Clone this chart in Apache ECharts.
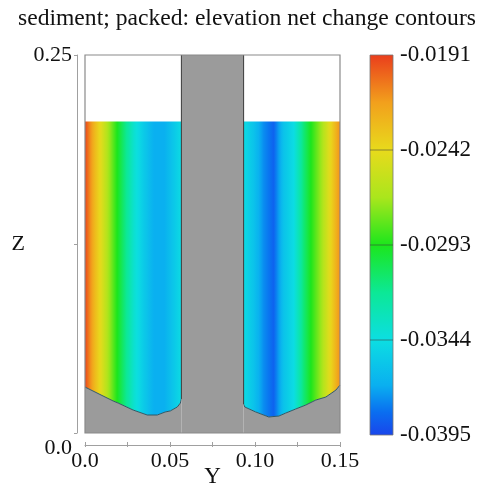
<!DOCTYPE html>
<html><head><meta charset="utf-8">
<script src="https://cdn.jsdelivr.net/npm/echarts@6/dist/echarts.min.js"></script>
<style>html,body{margin:0;padding:0;background:#fff}#c{width:483px;height:486px}</style>
</head><body><div id="c"></div>
<script>
// ---- data ----
const titleText = 'sediment; packed: elevation net change contours';
const xTickLabels = ['0.0', '', '0.05', '', '0.10', '', '0.15'];
const zTickLabels = ['0.0', '', '0.25'];
const colorTickLabels = ['-0.0395', '-0.0344', '-0.0293', '-0.0242', '-0.0191'];
const colorTickValues = [-0.0395, -0.0344, -0.0293, -0.0242, -0.0191];

const waterLevel = 0.206;
const pillarY = [0.0567, 0.0933];

const bedLeftY = [0, 0.0165, 0.0195, 0.0283, 0.0366, 0.0425, 0.0472, 0.0502, 0.0543, 0.0561, 0.0567];
const bedLeftZ = [0.0304, 0.0212, 0.0198, 0.0152, 0.0119, 0.0119, 0.0139, 0.0146, 0.0172, 0.0198, 0.0225];
const bedRightY = [0.0933, 0.0940, 0.1004, 0.1081, 0.1140, 0.1181, 0.1240, 0.1299, 0.1358, 0.1417, 0.1476, 0.15];
const bedRightZ = [0.0190, 0.0172, 0.0139, 0.0106, 0.0112, 0.0132, 0.0159, 0.0185, 0.0218, 0.0238, 0.0284, 0.0317];

const leftSampleY = [0, 0.0012, 0.0053, 0.0094, 0.0142, 0.0189, 0.0230, 0.0289, 0.0348, 0.0407, 0.0466, 0.0526, 0.0567];
const leftSampleV = [-0.0193, -0.0200, -0.0225, -0.0245, -0.0270, -0.0293, -0.0312, -0.0338, -0.0355, -0.0368, -0.0368, -0.0355, -0.0345];
const rightSampleY = [0.0933, 0.0992, 0.1051, 0.1110, 0.1169, 0.1228, 0.1287, 0.1329, 0.1388, 0.1447, 0.1494, 0.15];
const rightSampleV = [-0.0345, -0.0358, -0.0376, -0.0386, -0.0358, -0.0345, -0.0312, -0.0293, -0.0270, -0.0240, -0.0215, -0.0210];

// ---- colour map ----
const cmapStops = [
  [0.000, [25, 70, 235]],
  [0.060, [10, 110, 240]],
  [0.130, [10, 175, 240]],
  [0.250, [12, 222, 226]],
  [0.375, [12, 232, 150]],
  [0.500, [28, 230, 28]],
  [0.625, [170, 230, 28]],
  [0.750, [232, 218, 28]],
  [0.875, [242, 160, 28]],
  [1.000, [234, 62, 28]]
];
const vMin = colorTickValues[0], vMax = colorTickValues[colorTickValues.length - 1];
function cmapT(t) {
  t = Math.max(0, Math.min(1, t));
  for (let i = 1; i < cmapStops.length; i++) {
    if (t <= cmapStops[i][0]) {
      const a = cmapStops[i - 1], b = cmapStops[i];
      const f = (t - a[0]) / (b[0] - a[0]);
      const c = a[1].map((x, k) => Math.round(x + (b[1][k] - x) * f));
      return 'rgb(' + c.join(',') + ')';
    }
  }
  return 'rgb(' + cmapStops[cmapStops.length - 1][1].join(',') + ')';
}
function cmap(v) { return cmapT((v - vMin) / (vMax - vMin)); }

function regionStops(ys, vs) {
  const y0 = ys[0], y1 = ys[ys.length - 1];
  const stops = [];
  for (let i = 0; i < ys.length - 1; i++) {
    const n = 4;
    for (let k = 0; k < n; k++) {
      const f = k / n;
      const y = ys[i] + (ys[i + 1] - ys[i]) * f;
      const v = vs[i] + (vs[i + 1] - vs[i]) * f;
      stops.push({ offset: (y - y0) / (y1 - y0), color: cmap(v) });
    }
  }
  stops.push({ offset: 1, color: cmap(vs[vs.length - 1]) });
  return stops;
}

const FONT = 'Liberation Serif';
const GRAY = '#9b9b9b';
const chart = echarts.init(document.getElementById('c'), null, { renderer: 'canvas' });

function renderMain(params, api) {
  const P = (y, z) => api.coord([y, z]);
  const children = [];
  function waterPoly(y0, y1, bedY, bedZ, sy, sv) {
    const pts = [P(y0, waterLevel), P(y1, waterLevel)];
    for (let i = bedY.length - 1; i >= 0; i--) pts.push(P(bedY[i], bedZ[i]));
    return {
      type: 'polygon', shape: { points: pts },
      style: { fill: { type: 'linear', x: P(y0, 0)[0], y: 0, x2: P(y1, 0)[0], y2: 0, global: true, colorStops: regionStops(sy, sv) }, stroke: null }
    };
  }
  function bedPoly(bedY, bedZ) {
    const pts = bedY.map((y, i) => P(y, bedZ[i]));
    pts.push(P(bedY[bedY.length - 1], 0));
    pts.push(P(bedY[0], 0));
    return { type: 'polygon', shape: { points: pts }, style: { fill: GRAY, stroke: null } };
  }
  function bedLine(bedY, bedZ) {
    return { type: 'polyline', shape: { points: bedY.map((y, i) => P(y, bedZ[i])) }, style: { stroke: '#2f5866', lineWidth: 1, fill: null } };
  }
  children.push(waterPoly(0, pillarY[0], bedLeftY, bedLeftZ, leftSampleY, leftSampleV));
  children.push(waterPoly(pillarY[1], 0.15, bedRightY, bedRightZ, rightSampleY, rightSampleV));
  children.push(bedPoly(bedLeftY, bedLeftZ));
  children.push(bedPoly(bedRightY, bedRightZ));
  children.push(bedLine(bedLeftY, bedLeftZ));
  children.push(bedLine(bedRightY, bedRightZ));
  const a = P(pillarY[0], 0.25), b = P(pillarY[1], 0);
  children.push({ type: 'rect', shape: { x: a[0], y: a[1], width: b[0] - a[0], height: b[1] - a[1] }, style: { fill: GRAY, stroke: null } });
  children.push({ type: 'line', shape: { x1: a[0], y1: a[1], x2: a[0], y2: P(0, bedLeftZ[bedLeftZ.length - 1])[1] }, style: { stroke: '#3a3a3a', lineWidth: 1 } });
  children.push({ type: 'line', shape: { x1: b[0], y1: a[1], x2: b[0], y2: P(0, bedRightZ[0])[1] }, style: { stroke: '#3a3a3a', lineWidth: 1 } });
  const tl = P(0, 0.25), br = P(0.15, 0);
  children.push({ type: 'rect', shape: { x: tl[0], y: tl[1], width: br[0] - tl[0], height: br[1] - tl[1] }, style: { fill: null, stroke: '#8a8a8a', lineWidth: 1.2 } });
  return { type: 'group', children };
}

function renderBar(params, api) {
  const n = colorTickValues.length - 1;
  const tl = api.coord([0, n]), br = api.coord([1, 0]);
  const stops = cmapStops.map(s => ({ offset: 1 - s[0], color: 'rgb(' + s[1].join(',') + ')' }));
  stops.reverse();
  const children = [{
    type: 'rect', shape: { x: tl[0], y: tl[1], width: br[0] - tl[0], height: br[1] - tl[1] },
    style: { fill: { type: 'linear', x: 0, y: tl[1], x2: 0, y2: br[1], global: true, colorStops: stops }, stroke: '#777', lineWidth: 0.8 }
  }];
  for (let i = 1; i < n; i++) {
    const p = api.coord([0, i]);
    children.push({ type: 'line', shape: { x1: tl[0], y1: p[1], x2: br[0], y2: p[1] }, style: { stroke: 'rgba(60,60,60,0.55)', lineWidth: 1 } });
  }
  return { type: 'group', children };
}

const option = {
  animation: false,
  backgroundColor: '#fff',
  title: { text: titleText, left: 13, top: 2, textStyle: { fontFamily: FONT, fontSize: 23.6, fontWeight: 'normal', color: '#111' } },
  grid: [
    { left: 85, top: 55, width: 255, height: 378, show: false, containLabel: false, outerBoundsMode: 'none' },
    { left: 370, top: 55, width: 23, height: 380, show: false, containLabel: false, outerBoundsMode: 'none' }
  ],
  xAxis: [
    {
      gridIndex: 0, type: 'value', min: 0, max: 0.15, interval: 0.025, offset: 12, position: 'bottom',
      axisLine: { show: true, onZero: false, lineStyle: { color: '#a0a0a0', width: 1 } },
      axisTick: { show: true, inside: true, length: 3, lineStyle: { color: '#a0a0a0' } },
      axisLabel: { fontFamily: FONT, fontSize: 22, color: '#111', margin: 5, formatter: v => xTickLabels[Math.round(v / 0.025)] || '' },
      splitLine: { show: false },
      name: 'Y', nameLocation: 'middle', nameGap: 20, nameMoveOverlap: false,
      nameTextStyle: { fontFamily: FONT, fontSize: 23, color: '#111' }
    },
    {
      gridIndex: 0, type: 'value', min: 0, max: 0.15, interval: 0.025, offset: 12, position: 'bottom',
      axisLine: { show: false, onZero: false }, axisTick: { show: true, length: 2, lineStyle: { color: '#a0a0a0' } },
      axisLabel: { show: false }, splitLine: { show: false }
    },
    { gridIndex: 1, type: 'value', min: 0, max: 1, show: false }
  ],
  yAxis: [
    {
      gridIndex: 0, type: 'value', min: 0, max: 0.25, interval: 0.125, offset: 8,
      axisLine: { show: true, onZero: false, lineStyle: { color: '#a0a0a0', width: 1 } },
      axisTick: { show: true, length: 3, lineStyle: { color: '#a0a0a0' } },
      axisLabel: {
        fontFamily: FONT, fontSize: 22, color: '#111', margin: 5,
        formatter: v => { const i = Math.round(v / 0.125); return i === 0 ? '{lo|' + zTickLabels[0] + '}' : (zTickLabels[i] || ''); },
        rich: { lo: { fontFamily: FONT, fontSize: 22, color: '#111', padding: [30, 0, 0, 0] } }
      },
      splitLine: { show: false },
      name: 'Z', nameLocation: 'middle', nameRotate: 0, nameGap: 52, nameMoveOverlap: false,
      nameTextStyle: { fontFamily: FONT, fontSize: 22, color: '#111' }
    },
    {
      gridIndex: 1, type: 'value', min: 0, max: colorTickValues.length - 1, interval: 1, position: 'right',
      axisLine: { show: false }, axisTick: { show: false }, splitLine: { show: false },
      axisLabel: { fontFamily: FONT, fontSize: 23, color: '#111', margin: 7, formatter: v => colorTickLabels[Math.round(v)] || '' }
    }
  ],
  series: [
    { type: 'custom', xAxisIndex: 0, yAxisIndex: 0, data: [[0, 0]], renderItem: renderMain, silent: true },
    { type: 'custom', xAxisIndex: 2, yAxisIndex: 1, data: [[0, 0]], renderItem: renderBar, silent: true }
  ]
};
chart.setOption(option);
</script>
</body></html>
